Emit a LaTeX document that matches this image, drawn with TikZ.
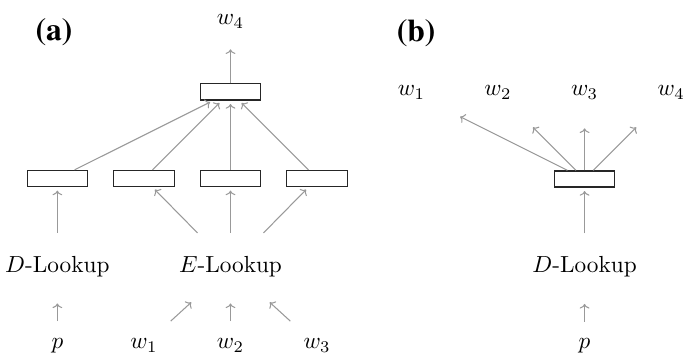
\documentclass[tikz,border=0pt]{standalone}
\usepackage{amsmath}
\usepackage{fontspec}
\newfontfamily\panelfont{texgyretermes-bold.otf}
\usepackage{tikz}
\usetikzlibrary{arrows.meta}

\begin{document}
\begin{tikzpicture}[node distance=37.2pt]
 \tikzstyle{arrow} = [-{To[length=2pt,width=4.2pt]},draw=black!40,line width=0.45pt,shorten >=1.5pt];
 \tikzstyle{cell} = [draw=black!85,line width=0.5pt,minimum width=26pt,minimum height=6.9pt,inner sep=0pt];
 \tikzstyle{word} = [inner sep=0pt,minimum height=20.6pt,minimum width=26pt];
 \tikzstyle{wordB} = [inner sep=0pt,minimum height=27.5pt,minimum width=38.7pt];
 \tikzstyle{lookup} = [inner sep=0pt,minimum height=28.4pt];
 \tikzstyle{panel} = [anchor=base,font=\panelfont\fontsize{13.6}{16}\selectfont];

 \useasboundingbox (0,0) rectangle (293.5pt,-154.3pt);

 % (a)
 \node[panel,name=pa] at (23.2pt,-17.4pt) {(a)};
 \node[cell,name=h] at (99.05pt,-39.5pt) {};
 \node[word,name=out,node distance=30.3pt,above of=h] {$w_4$};
 \node[cell,name=v2,below of=h] {};
 \node[cell,name=v1,left of=v2] {};
 \node[cell,name=vd,left of=v1] {};
 \node[cell,name=v3,right of=v2] {};
 \node[lookup,name=dlk,node distance=37.8pt,below of=vd] {$D$-Lookup};
 \node[lookup,name=elk,node distance=37.8pt,below of=v2] {$E$-Lookup};
 \node[word,name=p,node distance=34pt,below of=dlk] {$p$};
 \node[word,name=w2,node distance=34pt,below of=elk] {$w_2$};
 \node[word,name=w1,left of=w2] {$w_1$};
 \node[word,name=w3,right of=w2] {$w_3$};

 \path (h) edge [arrow] (out);
 \path (vd) edge [arrow] (h);
 \path (v1) edge [arrow] (h);
 \path (v2) edge [arrow] (h);
 \path (v3) edge [arrow] (h);
 \path (dlk) edge [arrow] (vd);
 \path (elk) edge [arrow] (v1);
 \path (elk) edge [arrow] (v2);
 \path (elk) edge [arrow] (v3);
 \path (p) edge [arrow] (dlk);
 \path (w1) edge [arrow] (elk);
 \path (w2) edge [arrow] (elk);
 \path (w3) edge [arrow] (elk);

 % (b)
 \node[panel,name=pb] at (178.8pt,-18pt) {(b)};
 \node[cell,name=bh] at (251.2pt,-76.9pt) {};
 \node[wordB,name=bw3,above of=bh] {$w_3$};
 \node[wordB,name=bw2,left of=bw3] {$w_2$};
 \node[wordB,name=bw1,left of=bw2] {$w_1$};
 \node[wordB,name=bw4,right of=bw3] {$w_4$};
 \node[lookup,name=bdlk,node distance=37.8pt,below of=bh] {$D$-Lookup};
 \node[word,name=bp,node distance=34pt,below of=bdlk] {$p$};

 \path (bh) edge [arrow] (bw1);
 \path (bh) edge [arrow] (bw2);
 \path (bh) edge [arrow] (bw3);
 \path (bh) edge [arrow] (bw4);
 \path (bdlk) edge [arrow] (bh);
 \path (bp) edge [arrow] (bdlk);
\end{tikzpicture}
\end{document}
